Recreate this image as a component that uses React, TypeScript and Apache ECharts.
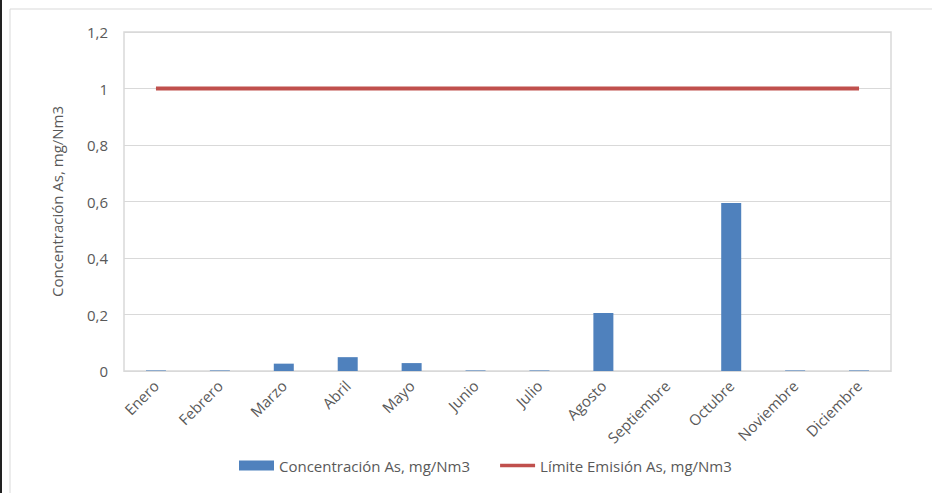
import React, { useEffect, useRef } from "react";
import * as echarts from "echarts";

const months = ["Enero", "Febrero", "Marzo", "Abril", "Mayo", "Junio", "Julio", "Agosto", "Septiembre", "Octubre", "Noviembre", "Diciembre"];
const concentracion = [0.002, 0.002, 0.026, 0.049, 0.028, 0.002, 0.002, 0.205, 0, 0.595, 0.002, 0.002];
const limite = [1, 1, 1, 1, 1, 1, 1, 1, 1, 1, 1, 1];
const seriesNames = ["Concentración As, mg/Nm3", "Límite Emisión As, mg/Nm3"];
const yTitle = "Concentración As, mg/Nm3";

const FONT = "Open Sans";
const TXT = "#595959";
const FS = 15;

export default function App() {
  const ref = useRef<HTMLDivElement>(null);
  useEffect(() => {
    document.body.style.margin = "0";
    const chart = echarts.init(ref.current!, null, { renderer: "svg" });
    chart.setOption({
      animation: false,
      backgroundColor: "#ffffff",
      textStyle: { fontFamily: FONT },
      graphic: [
        { type: "rect", shape: { x: 10, y: 9, width: 940, height: 500 }, style: { fill: "none", stroke: "#D9D9D9", lineWidth: 1 }, silent: true },
        { type: "rect", shape: { x: 0, y: 0, width: 2, height: 493 }, style: { fill: "#222222" }, silent: true },
      ],
      grid: { left: 124, right: 41, top: 32, bottom: 122, show: true, borderColor: "#D9D9D9", borderWidth: 1.5, containLabel: false },
      legend: {
        top: 453,
        left: 234,
        itemWidth: 35,
        itemHeight: 10,
        itemGap: 30,
        textStyle: { color: TXT, fontSize: FS, fontFamily: FONT },
        data: [
          { name: seriesNames[0], icon: "rect" },
          { name: seriesNames[1], icon: "path://M0,0H38V4H0Z" },
        ],
      },
      xAxis: {
        type: "category",
        data: months,
        axisLine: { lineStyle: { color: "#D9D9D9", width: 1 } },
        axisTick: { show: false },
        axisLabel: { rotate: 45, color: TXT, fontSize: FS, fontFamily: FONT, margin: 12, interval: 0 },
      },
      yAxis: {
        type: "value",
        min: 0,
        max: 1.2,
        interval: 0.2,
        name: yTitle,
        nameLocation: "middle",
        nameGap: 60,
        nameRotate: 90,
        nameTextStyle: { color: TXT, fontSize: FS, fontFamily: FONT },
        axisLine: { show: false },
        axisTick: { show: false },
        splitLine: { lineStyle: { color: "#D9D9D9", width: 1 } },
        axisLabel: {
          color: TXT,
          fontSize: FS,
          fontFamily: FONT,
          margin: 16,
          formatter: (v: number) => String(Math.round(v * 10) / 10).replace(".", ","),
        },
      },
      series: [
        {
          name: seriesNames[0],
          type: "bar",
          data: concentracion,
          barWidth: 20,
          itemStyle: { color: "#4F81BD" },
        },
        {
          name: seriesNames[1],
          type: "line",
          data: limite,
          symbol: "none",
          lineStyle: { color: "#C0504D", width: 4 },
          itemStyle: { color: "#C0504D" },
        },
      ],
    });
    return () => chart.dispose();
  }, []);
  return <div ref={ref} style={{ width: 932, height: 493 }} />;
}
